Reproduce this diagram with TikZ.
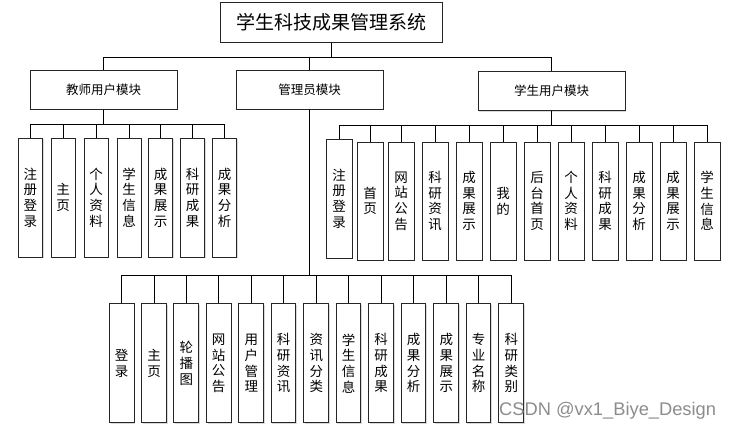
\documentclass[tikz,border=0pt]{standalone}
\usepackage{fontspec}
\setmainfont{Noto Sans CJK SC}
\newfontfamily\wmfont{Liberation Sans}
\usetikzlibrary{shadows}
\tikzset{
  box/.style={draw=black!85, line width=1pt, fill=white, rectangle, inner sep=0pt,
    drop shadow={shadow xshift=1.2pt, shadow yshift=-1.2pt, opacity=0.25, fill=black!60}},
  rootbox/.style={box, minimum width=222pt, minimum height=40pt, font=\fontsize{19}{22}\selectfont},
  modbox/.style={box, minimum width=147pt, minimum height=39pt, font=\fontsize{12.5}{15}\selectfont},
  leaf/.style={box, align=center, font=\fontsize{13.5}{15.7}\selectfont},
  tleaf/.style={leaf, minimum width=24pt, minimum height=119pt},
  sleaf/.style={leaf, minimum width=26pt, minimum height=118pt},
  aleaf/.style={leaf, minimum width=24.7pt, minimum height=119.3pt},
  conn/.style={draw=black, line width=0.9pt},
}
\begin{document}
\begin{tikzpicture}[x=1pt,y=-1pt]
\useasboundingbox (0,0) rectangle (731,431);
\node[rootbox] (root) at (331,22) {学生科技成果管理系统};
\node[modbox] (teacher) at (103.5,89.5) {教师用户模块};
\node[modbox] (admin) at (309.5,89.5) {管理员模块};
\node[modbox] (student) at (551.5,91) {学生用户模块};
\coordinate (rb) at (331,57);
\foreach \m in {teacher,admin,student}{
  \draw[conn] (root.south) -- (rb) -| (\m.north);
}
% teacher leaves
\foreach \x/\t [count=\i] in {30.3/注\\册\\登\\录, 63/主\\页, 96.2/个\\人\\资\\料, 129/学\\生\\信\\息, 160.7/成\\果\\展\\示, 192.7/科\\研\\成\\果, 224.5/成\\果\\分\\析}{
  \node[tleaf] (t\i) at (\x,197.5) {\t};
  \draw[conn] (teacher.south) -- (teacher.south |- 0,124) -| (t\i.north);
}
% student leaves
\node[sleaf, minimum height=119pt] (s1) at (339,198.5) {注\\册\\登\\录};
\draw[conn] (student.south) -- (student.south |- 0,125) -| (s1.north);
\foreach \x/\t [count=\j from 2] in {370/首\\页, 401/网\\站\\公\\告, 435/科\\研\\资\\讯, 469/成\\果\\展\\示, 503/我\\的, 537/后\\台\\首\\页, 571/个\\人\\资\\料, 605/科\\研\\成\\果, 639/成\\果\\分\\析, 673/成\\果\\展\\示, 707/学\\生\\信\\息}{
  \node[sleaf] (s\j) at (\x,201) {\t};
  \draw[conn] (student.south) -- (student.south |- 0,125) -| (s\j.north);
}
% admin leaves
\foreach \x/\t [count=\i] in {121.7/登\\录, 154/主\\页, 186.3/轮\\播\\图, 218.7/网\\站\\公\\告, 251.3/用\\户\\管\\理, 283.5/科\\研\\资\\讯, 316.3/资\\讯\\分\\类, 348.5/学\\生\\信\\息, 381.2/科\\研\\成\\果, 413.5/成\\果\\分\\析, 446.3/成\\果\\展\\示, 478.5/专\\业\\名\\称, 511.3/科\\研\\类\\别}{
  \node[aleaf] (a\i) at (\x,363.3) {\t};
  \draw[conn] (admin.south) -- (admin.south |- 0,275) -| (a\i.north);
}
\node[font=\wmfont\fontsize{18.3}{20}\selectfont, text=black!45, anchor=west, inner sep=0pt] (wm) at (499,411) {CSDN @vx1\_Biye\_Design};
\end{tikzpicture}
\end{document}
